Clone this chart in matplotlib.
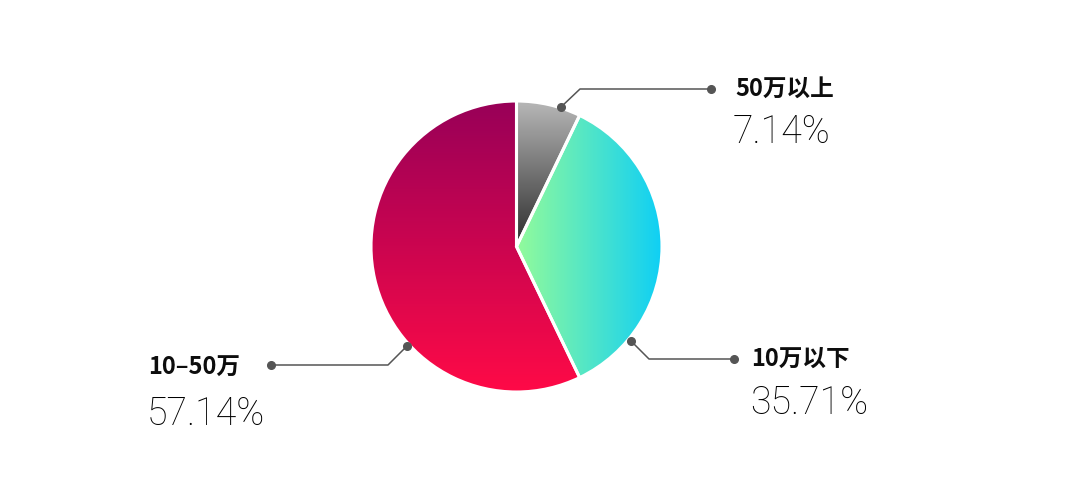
import numpy as np
import matplotlib
matplotlib.use("Agg")
import matplotlib.pyplot as plt
from matplotlib.colors import LinearSegmentedColormap

# ---- data ----
categories = ["50万以上", "10万以下", "10–50万"]
values = [7.14, 35.71, 57.14]
pct_labels = ["7.14%", "35.71%", "57.14%"]

W, H = 1080, 504
fig = plt.figure(figsize=(W / 100, H / 100), dpi=100)
ax = fig.add_axes([0, 0, 1, 1])


def Y(y):
    """convert image-pixel y (from top) to axis y (from bottom)"""
    return H - y


cx, cy, r = 516.5, Y(246.5), 145.5

wedges, _ = ax.pie(values, startangle=90, counterclock=False,
                   center=(cx, cy), radius=r, frame=True,
                   wedgeprops=dict(edgecolor="white", linewidth=2.2))
ax.set_xlim(0, W)
ax.set_ylim(0, H)
ax.set_aspect("equal")
ax.axis("off")

# (direction, colours from start to end, range along direction)
grads = [
    ("v", ["#b8b8b8", "#2c2c2c"], (cy + r, cy)),      # top light -> centre dark
    ("h", ["#92fb9b", "#0ecff6"], (cx, cx + r)),      # left green -> right cyan
    ("v", ["#980058", "#ff0a47"], (cy + r, cy - r)),  # top dark -> bottom red
]

for w, (d, cols, (a, b)) in zip(wedges, grads):
    cmap = LinearSegmentedColormap.from_list("g", cols)
    g = np.linspace(0, 1, 256)
    if d == "v":
        img = g[:, None] * np.ones((1, 2))
        extent = (cx - r, cx + r, b, a)
    else:
        img = g[None, :] * np.ones((2, 1))
        extent = (a, b, cy - r, cy + r)
    w.set_facecolor("none")
    im = ax.imshow(img, cmap=cmap, extent=extent, origin="upper",
                   aspect="auto", zorder=1, interpolation="bilinear")
    im.set_clip_path(w)
    w.set_zorder(2)

ax.set_xlim(0, W)
ax.set_ylim(0, H)

# ---- leader lines ----
lc = "#555555"
leaders = [
    [(561, 107), (580, 89), (711, 89)],
    [(631, 341), (649, 359), (734, 359)],
    [(407, 346), (388, 365), (271, 365)],
]
for pts in leaders:
    xs = [p[0] for p in pts]
    ys = [Y(p[1]) for p in pts]
    ax.plot(xs, ys, color=lc, lw=1.1, zorder=3, solid_capstyle="round")
    ax.plot([xs[0], xs[-1]], [ys[0], ys[-1]], "o", color=lc, ms=5.5, zorder=4)

# ---- labels ----
name_pos = [(735, 88.5), (751, 358.5), (148, 368)]
pct_pos = [(733, 143), (750, 414), (147, 425)]
for name, pct, (nx, ny), (px, py) in zip(categories, pct_labels, name_pos, pct_pos):
    ax.text(nx, Y(ny), name, fontsize=17, fontweight="heavy", color="#0d0d0d",
            family=["Noto Sans CJK SC", "DejaVu Sans"], ha="left", va="center")
    ax.text(px, Y(py), pct, fontsize=27, fontweight="light", color="#000000",
            family=["Roboto", "DejaVu Sans"], ha="left", va="baseline")

fig.savefig("out.png", dpi=100, facecolor="white")
